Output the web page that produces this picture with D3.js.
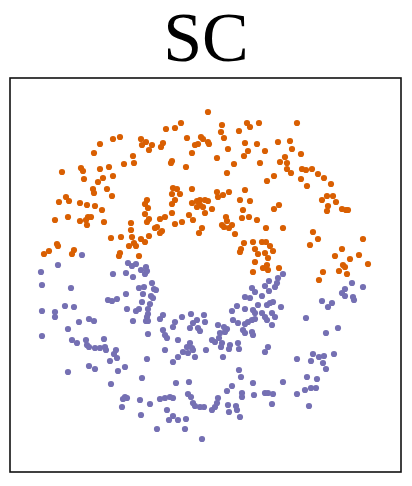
<!DOCTYPE html>
<html>
<head>
<meta charset="utf-8">
<script src="https://cdn.jsdelivr.net/npm/d3@7"></script>
<style>
  body { margin: 0; background: #fff; }
  .title { font-family: "Liberation Serif", "Times New Roman", serif; }
</style>
</head>
<body>
<div id="chart"></div>
<script>
// chart title and class labels
const title = "SC";
const classes = ["outer", "inner"];

// points of the orange class (upper half of both rings)
const orangePoints = [
  [110,335],[103,333],[90,328],[84,319],[131,333],[136,330],[132,327],[142,327],[139,322],[123,316],
  [124,309],[114,308],[99,305],[52,300],[71,304],[73,301],[90,303],[103,296],[93,294],[74,293],
  [88,290],[83,283],[84,279],[97,283],[102,276],[56,275],[59,271],[49,270],[70,269],[77,267],
  [85,266],[92,262],[137,272],[135,268],[138,264],[135,258],[45,252],[58,255],[70,251],[78,255],
  [76,252],[81,255],[77,247],[94,250],[139,253],[137,250],[145,244],[121,249],[121,242],[101,234],
  [111,235],[122,235],[131,233],[135,230],[139,236],[124,229],[119,226],[126,226],[47,228],[48,226],
  [64,222],[62,218],[39,221],[34,218],[110,219],[109,216],[129,216],
  [198,360],[156,343],[165,344],[171,349],[177,334],[191,335],[193,333],[198,330],[199,328],[185,327],
  [188,328],[212,347],[211,340],[214,334],[229,341],[237,349],[240,345],[249,349],[235,329],[247,328],
  [255,321],[218,323],[238,321],[234,316],[153,329],[151,325],[182,319],[162,311],[161,309],[176,305],
  [207,314],[224,308],[217,299],[250,309],[257,291],[264,296],
  [163,284],[167,283],[182,283],[162,278],[170,278],[207,280],[208,275],[213,277],[219,280],[235,282],
  [230,272],[240,271],[165,272],[162,268],[182,269],[187,271],[190,272],[195,272],[198,271],[187,265],
  [190,267],[193,265],[202,263],[195,259],[233,262],[232,254],[239,255],[247,252],[162,259],[155,255],
  [150,253],[179,257],[183,252],[172,250],[165,248],[147,245],[152,241],[150,239],[192,244],[189,239],
  [216,255],[217,251],[212,247],[214,245],[219,244],[222,247],[225,238],[234,229],[243,230],[256,244],
  [231,223],[230,220],[252,230],[256,230],[260,226],[245,223],[248,218],[255,219],[263,221],[258,214],
  [245,210],[253,204],[257,207],[258,202],[243,200],
  [287,349],[268,330],[280,331],[282,323],[291,318],[275,315],[270,310],[277,309],[277,303],[281,299],
  [292,303],[296,302],[302,303],[308,298],[314,294],[291,293],[297,286],[321,288],[317,276],[323,276],
  [312,272],[326,270],[318,266],[317,261],[332,263],[336,262],[338,262],[264,263],[269,267],[273,244],
  [303,240],[308,233],[300,227],[353,233],[332,223],[325,216],[340,213],[349,217],
  [358,208],[333,207],[335,205],[329,201],[337,198],[313,200],[309,192],[269,204]
];

// points of the purple class (lower half of both rings)
const purplePoints = [
  [72,217],[48,207],[31,200],[32,187],[61,184],[103,198],[116,199],[118,209],[122,206],[126,208],
  [123,195],[131,202],[136,205],[135,198],[137,201],[142,189],[134,185],[129,184],[144,183],[133,178],
  [141,176],[143,174],[116,178],[98,172],[102,171],[107,173],[132,170],[140,168],[32,161],[45,160],
  [45,155],[55,166],[64,165],[117,163],[126,161],[129,163],[138,163],[138,158],[137,155],[136,151],
  [138,151],[123,151],[69,150],[79,153],[84,151],[58,143],[32,136],[138,138],[62,132],[67,129],
  [76,132],[77,127],[79,125],[85,124],[90,124],[94,133],[95,125],[96,122],[106,122],[104,118],
  [107,114],[100,111],[137,113],[58,100],[79,106],[85,103],[108,101],[115,105],[132,94],[101,88],
  [115,75],[117,74],[113,73],[112,65],[130,72],[140,68],[131,57],
  [146,182],[153,157],[150,153],[165,150],[172,155],[181,158],[187,152],[194,157],[195,150],[183,149],
  [180,144],[188,144],[190,141],[163,145],[153,142],[155,137],[157,134],[168,132],[155,122],[163,110],
  [168,115],[173,120],[177,125],[180,129],[182,124],[178,119],[185,115],[183,122],[196,122],[202,132],
  [205,130],[208,147],[210,139],[217,143],[214,145],[209,134],[212,129],[211,125],[220,127],[219,123],
  [228,129],[229,123],[213,115],[258,125],[255,120],[229,102],[231,95],[243,89],[244,77],[222,86],
  [217,81],[232,79],[232,75],[255,79],[258,79],[263,78],[262,68],[166,89],[179,90],[178,78],
  [181,75],[183,69],[185,66],[190,65],[194,65],[202,62],[205,65],[207,69],[208,74],[218,67],
  [219,60],[226,66],[227,62],[230,55],[150,73],[155,74],[160,75],[163,74],[157,62],[163,56],
  [159,52],[168,52],[176,53],[175,43],[147,43],[192,33],
  [259,191],[255,186],[242,184],[245,180],[235,175],[240,174],[252,176],[259,181],[227,166],[222,161],
  [235,163],[243,162],[248,167],[257,167],[260,169],[263,170],[245,159],[252,159],[255,155],[223,152],
  [228,149],[238,150],[242,152],[245,153],[235,148],[257,152],[262,147],[233,142],[235,139],[242,140],
  [243,137],[215,140],
  [273,198],[268,194],[267,189],[265,185],[342,189],[353,185],[335,183],[332,179],[335,176],[343,175],
  [344,172],[312,171],[322,169],[318,165],[271,165],[265,155],[296,154],[328,144],[316,139],[287,113],
  [303,118],[301,111],[309,115],[314,116],[313,109],[316,103],[324,118],[297,95],[307,93],[273,90],
  [295,82],[301,84],[306,84],[287,78],[299,66],[262,159]
];

// set dimensions
const width = 412,
    height = 486,
    margin = {
        top: 78,
        right: 11,
        bottom: 14,
        left: 10
    };

const colors = ["#d95f02", "#7570b3"];

// create svg
const svg = d3.select("#chart")
    .append("svg")
    .attr("width", width)
    .attr("height", height);

// scales
const xScale = d3.scaleLinear()
    .domain([0, 391])
    .range([margin.left, width - margin.right]);

const yScale = d3.scaleLinear()
    .domain([0, 394])
    .range([height - margin.bottom, margin.top]);

const colorScale = d3.scaleOrdinal()
    .domain(classes)
    .range(colors);

// title
svg.append("text")
    .attr("class", "title")
    .attr("x", width / 2)
    .attr("y", 61)
    .attr("text-anchor", "middle")
    .style("font-size", "70px")
    .attr("fill", "#000")
    .text(title);

// points
const groups = [orangePoints, purplePoints];
groups.forEach((pts, i) => {
    svg.append("g")
        .selectAll("circle")
        .data(pts)
        .enter()
        .append("circle")
        .attr("cx", d => xScale(d[0]))
        .attr("cy", d => yScale(d[1]))
        .attr("r", 3.1)
        .attr("fill", colorScale(classes[i]));
});

// frame
svg.append("rect")
    .attr("x", xScale(0))
    .attr("y", yScale(394))
    .attr("width", xScale(391) - xScale(0))
    .attr("height", yScale(0) - yScale(394))
    .attr("fill", "none")
    .attr("stroke", "#111")
    .attr("stroke-width", 1.6);
</script>
</body>
</html>
